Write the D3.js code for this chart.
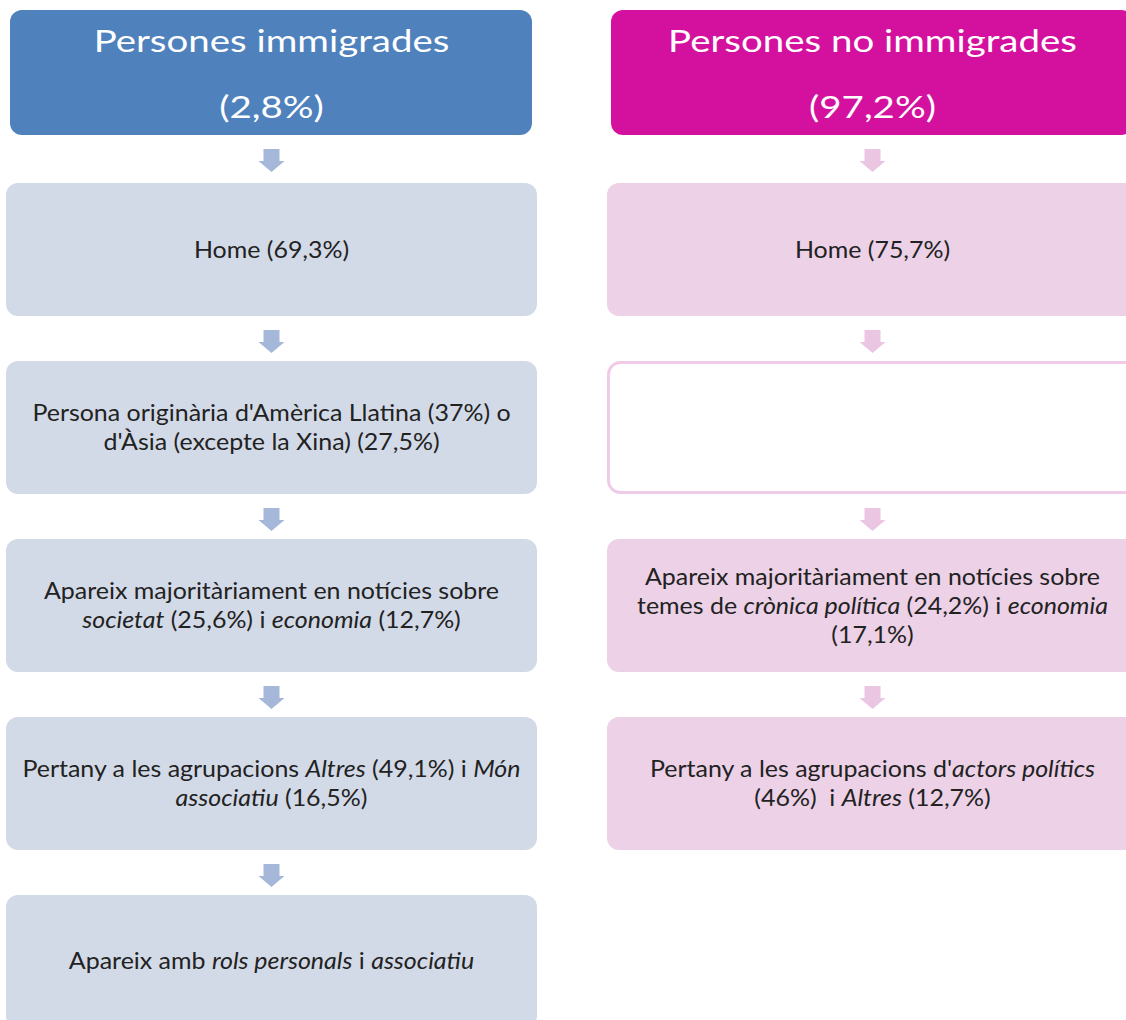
<!DOCTYPE html>
<html>
<head>
  <meta charset="utf-8">
  <title>Persones immigrades / no immigrades</title>
  <script src="https://d3js.org/d3.v7.min.js"></script>
  <style>
    body { margin: 0; background: white; }
    svg { display: block; }
    text { font-family: Lato, "Open Sans", sans-serif; white-space: pre; }
  </style>
</head>
<body>
<div id="chart"></div>
<script type="text/javascript">
var width = 1126;
var height = 1020;

// column headers and their shares
var groups = ["Persones immigrades", "Persones no immigrades"];
var shares = ["(2,8%)", "(97,2%)"];

// steps of each column, "|" breaks a line, *...* is italic
var immigrantSteps = [
  "Home (69,3%)",
  "Persona originària d'Amèrica Llatina (37%) o|d'Àsia (excepte la Xina) (27,5%)",
  "Apareix majoritàriament en notícies sobre|*societat* (25,6%) i *economia* (12,7%)",
  "Pertany a les agrupacions *Altres* (49,1%) i *Món*|*associatiu* (16,5%)",
  "Apareix amb *rols personals* i *associatiu*"
];
var nonImmigrantSteps = [
  "Home (75,7%)",
  "",
  "Apareix majoritàriament en notícies sobre|temes de *crònica política* (24,2%) i *economia*|(17,1%)",
  "Pertany a les agrupacions d'*actors polítics*|(46%)  i *Altres* (12,7%)"
];

var headerFill = ["#4f81bd", "#d4119e"];
var boxFill = ["#d3dae7", "#ecd1e7"];
var arrowFill = ["#a6b8d9", "#ebc6e3"];

var svg = d3.select("#chart").append("svg").attr("width", width).attr("height", height);

var x = d3.scaleBand().domain(groups).range([6, 1138]).paddingInner(0.1165);
var y = d3.scaleBand().domain(d3.range(5)).range([183, 1028]).paddingInner(0.2528);

var lineHeight = 29;

// text is a little wider than tall in the original slide
function stretchedText(g, cx, by, size, sx) {
  return g.append("text")
    .attr("transform", "translate(" + cx + "," + by + ") scale(" + sx + ",1)")
    .attr("text-anchor", "middle")
    .style("font-size", size + "px");
}

function drawLines(g, str, cx, cy) {
  var lines = str.split("|");
  lines.forEach(function(line, i) {
    var t = stretchedText(g, cx, cy + 8 + (i - (lines.length - 1) / 2) * lineHeight, 24, 1.04)
      .style("fill", "#222");
    line.split("*").forEach(function(seg, j) {
      if (seg === "") return;
      t.append("tspan").text(seg).style("font-style", j % 2 ? "italic" : "normal");
    });
  });
}

function arrow(g, cx, top, fill) {
  var p = d3.path();
  p.moveTo(cx - 8, top);
  p.lineTo(cx + 8, top);
  p.lineTo(cx + 8, top + 12);
  p.lineTo(cx + 13, top + 12);
  p.lineTo(cx, top + 23);
  p.lineTo(cx - 13, top + 12);
  p.lineTo(cx - 8, top + 12);
  p.closePath();
  g.append("path").attr("d", p.toString()).style("fill", fill);
}

[immigrantSteps, nonImmigrantSteps].forEach(function(steps, c) {
  var g = svg.append("g");
  var x0 = x(groups[c]);
  var w = x.bandwidth();
  var cx = x0 + w / 2;

  // header
  g.append("rect")
    .attr("x", x0 + 4).attr("y", 10)
    .attr("width", w - 9).attr("height", 125)
    .attr("rx", 12)
    .style("fill", headerFill[c]);
  stretchedText(g, cx, 52, 31, 1.24).style("fill", "white").text(groups[c]);
  stretchedText(g, cx, 118, 31, 1.24).style("fill", "white").text(shares[c]);

  steps.forEach(function(s, i) {
    var top = y(i);
    var prevBottom = i === 0 ? 135 : y(i - 1) + y.bandwidth();
    arrow(g, cx, prevBottom + 14, arrowFill[c]);

    if (s === "") {
      // empty box, outline only
      g.append("rect")
        .attr("x", x0 + 1.5).attr("y", top + 1.5)
        .attr("width", w - 3).attr("height", y.bandwidth() - 3)
        .attr("rx", 12)
        .style("fill", "white")
        .style("stroke", "#efcbe8")
        .style("stroke-width", 3);
    } else {
      g.append("rect")
        .attr("x", x0).attr("y", top)
        .attr("width", w).attr("height", y.bandwidth())
        .attr("rx", 12)
        .style("fill", boxFill[c]);
      drawLines(g, s, cx, top + y.bandwidth() / 2);
    }
  });
});
</script>
</body>
</html>
